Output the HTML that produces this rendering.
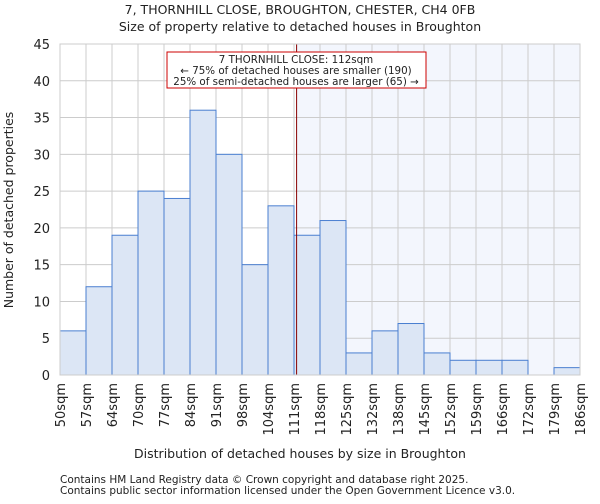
<!DOCTYPE html>
<html><head><meta charset="utf-8"><style>
body{margin:0;background:#fff;font-family:"DejaVu Sans","Liberation Sans",sans-serif}
svg text{font-family:"DejaVu Sans","Liberation Sans",sans-serif;fill:#222}
</style></head><body>
<svg id="c" width="600" height="500" xmlns="http://www.w3.org/2000/svg">
<text x="300" y="14" text-anchor="middle" font-size="12.5">7, THORNHILL CLOSE, BROUGHTON, CHESTER, CH4 0FB</text>
<text x="300" y="31" text-anchor="middle" font-size="12.5">Size of property relative to detached houses in Broughton</text>
<g id="plot"></g>
<text x="300" y="458" text-anchor="middle" font-size="12.5">Distribution of detached houses by size in Broughton</text>
<text transform="translate(13,210) rotate(-90)" text-anchor="middle" font-size="12.5">Number of detached properties</text>
<text x="60" y="483" font-size="10.5">Contains HM Land Registry data © Crown copyright and database right 2025.</text>
<text x="60" y="494" font-size="10.5">Contains public sector information licensed under the Open Government Licence v3.0.</text>
</svg>
<script>
const categories=["50sqm","57sqm","64sqm","70sqm","77sqm","84sqm","91sqm","98sqm","104sqm","111sqm","118sqm","125sqm","132sqm","138sqm","145sqm","152sqm","159sqm","166sqm","172sqm","179sqm","186sqm"];
const counts=[6,12,19,25,24,36,30,15,23,19,21,3,6,7,3,2,2,2,0,1];
const yTicks=[0,5,10,15,20,25,30,35,40,45];
const markerBin=9.1;
const NS="http://www.w3.org/2000/svg";
const L=60,R=580,T=44,B=375,yMax=45;
const xs=i=>L+i*(R-L)/counts.length;
const ys=v=>B-v/yMax*(B-T);
const g=document.getElementById('plot');
function el(t,a,p){const e=document.createElementNS(NS,t);for(const k in a)e.setAttribute(k,a[k]);(p||g).appendChild(e);return e;}
const mx=xs(markerBin);
const sh=el('rect',{x:mx,y:T,width:R-mx,height:B-T,fill:'#f3f6fd'});


yTicks.forEach(v=>{
 const l=el('line',{x1:L,x2:R,y1:ys(v),y2:ys(v),stroke:'#ccc','stroke-width':1});
 
 
 const t=el('text',{x:L-10,y:ys(v)+5,'text-anchor':'end','font-size':'13'});t.textContent=v;
 
 
});
categories.forEach((c,i)=>{
 const l=el('line',{x1:xs(i),x2:xs(i),y1:T,y2:B,stroke:'#ccc','stroke-width':1});
 
 
 const t=el('text',{transform:`translate(${xs(i)+5},${B+8}) rotate(-90)`,'text-anchor':'end','font-size':'13'});t.textContent=c;
 
 
});
counts.forEach((v,i)=>{
 if(v<=0)return;
 const r=el('rect',{x:xs(i),y:ys(v),width:xs(i+1)-xs(i),height:B-ys(v),fill:'#dce6f5',stroke:'#4a7fd0','stroke-width':1});
 
 
});
const ml=el('line',{x1:mx,x2:mx,y1:T,y2:B,stroke:'#800','stroke-width':1});


const ab=el('rect',{x:167,y:52,width:259,height:36,fill:'#fff',stroke:'#c00','stroke-width':1});


["7 THORNHILL CLOSE: 112sqm","← 75% of detached houses are smaller (190)","25% of semi-detached houses are larger (65) →"].forEach((s,i)=>{
 const t=el('text',{x:296,y:63+i*11,'text-anchor':'middle','font-size':'10.3'});t.textContent=s;
 
 
});
const ax=el('rect',{x:L,y:T,width:R-L,height:B-T,fill:'none',stroke:'#ccc'});


</script>
</body></html>
